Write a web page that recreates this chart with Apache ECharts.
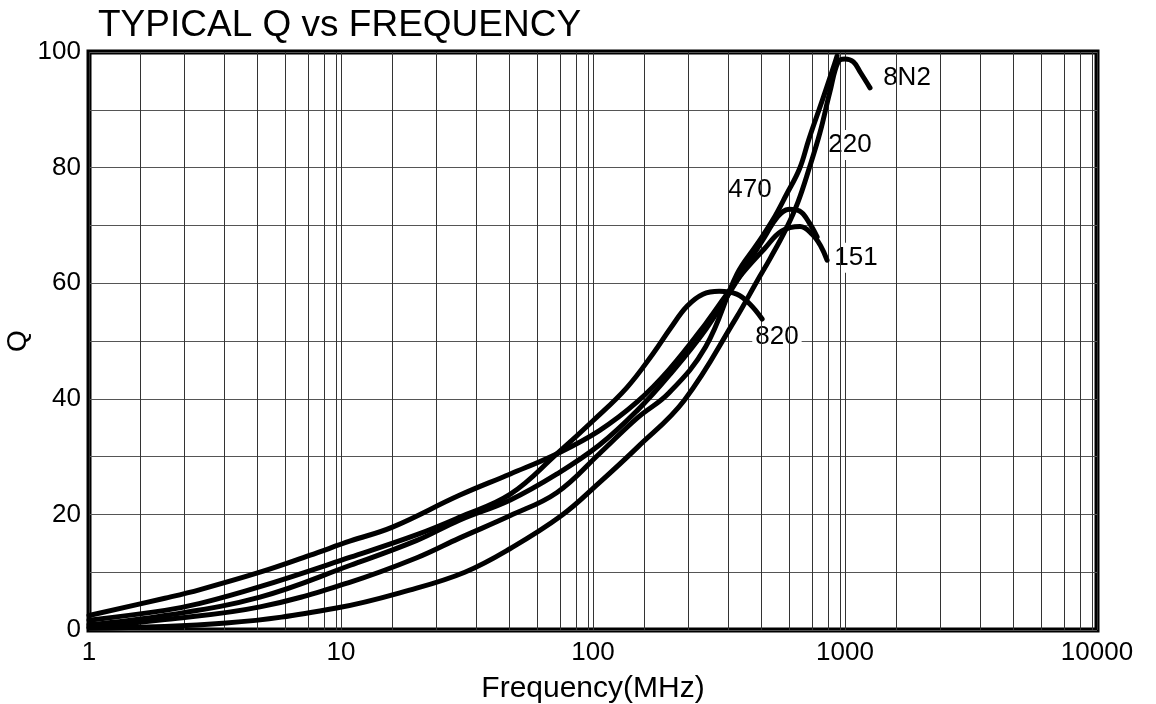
<!DOCTYPE html>
<html>
<head>
<meta charset="utf-8">
<script src="https://cdn.jsdelivr.net/npm/echarts@6/dist/echarts.min.js"></script>
<style>
html,body{margin:0;padding:0;background:#fff;}
#chart{width:1156px;height:704px;}
</style>
</head>
<body>
<div id="chart"></div>
<script>
// ---- data ----
const xTickLabels = [1, 10, 100, 1000, 10000];
const yTickLabels = [0, 20, 40, 60, 80, 100];
// minor vertical grid positions inside each decade (fraction of decade, as printed)
const minorFractions = [0.202, 0.377, 0.536, 0.667, 0.778, 0.869, 0.933, 0.98];

const seriesNames = ['151', '820', '470', '220', '8N2'];

const freq151 = [1, 2, 2.76, 4.77, 7.5, 10.9, 16, 29.5, 47, 72, 106, 150, 200, 280, 380, 480, 560, 663, 740, 800, 849];
const q151    = [2.5, 5.5, 7, 10, 12.9, 15.4, 17.8, 23.3, 27, 30.5, 34.5, 39.5, 45, 53, 61, 66, 69, 69.8, 68.5, 66.5, 64];

const freq820 = [1, 2, 2.76, 4.77, 10.9, 20, 29.5, 47, 72, 100, 136, 173, 203, 236, 273, 317, 372, 419, 469];
const q820    = [1.7, 3.4, 4.6, 7.5, 12.6, 16.5, 19.5, 23.5, 30.5, 36.2, 41.9, 47.8, 52.2, 56, 58.1, 58.6, 58.1, 56.4, 53.8];

const freq470 = [1, 2, 4.77, 10.9, 20, 29.5, 47, 72, 106, 150, 200, 280, 380, 480, 540, 600, 660, 720, 775];
const q470    = [0.9, 2.5, 5.7, 11.2, 15.5, 19, 22.5, 27, 32, 38, 44, 52, 61, 68, 71.5, 72.8, 72.5, 70.5, 68];

const freq220 = [1, 2, 4.77, 10.9, 20, 29.5, 47, 72, 106, 150, 200, 280, 373, 447, 518, 585, 660, 720, 818, 910, 930];
const q220    = [0.5, 1.8, 4, 8.3, 12.5, 15.9, 19.8, 23.8, 30.5, 36.7, 41, 49, 61.6, 66.7, 71, 75.3, 79.8, 85, 92, 98, 99.3];

const freq8N2 = [1, 3.5, 9.6, 18.7, 31, 47, 75, 106, 150, 230, 370, 447, 505, 585, 650, 720, 795, 870, 940, 1000, 1080, 1150, 1257];
const q8N2    = [0.3, 1.2, 3.8, 6.9, 10, 14.1, 19.8, 25.5, 31.6, 39.7, 54, 60.3, 64.3, 69.5, 74, 79.8, 86, 93, 98.3, 98.8, 98.3, 96.5, 93.8];

// curve label anchors (frequency, Q)
const labelFreq = [1106, 537, 420, 1047, 1762];
const labelQ    = [64.4, 50.7, 76.1, 83.9, 95.5];

// ---- build ----
const curves = [
  [freq151, q151], [freq820, q820], [freq470, q470], [freq220, q220], [freq8N2, q8N2]
];
const FONT = '"Liberation Sans", Arial, sans-serif';

const minorLines = [];
for (let d = 0; d < 4; d++) {
  minorFractions.forEach(fr => minorLines.push({ xAxis: Math.pow(10, d + fr) }));
}

const series = curves.map((c, i) => ({
  name: seriesNames[i],
  type: 'line',
  data: c[0].map((f, j) => [f, c[1][j]]),
  symbol: 'none',
  smooth: 0.4,
  lineStyle: { color: '#000', width: 5, cap: 'round', join: 'round' },
  z: 5,
  silent: true
}));

series.push({
  type: 'line',
  data: [],
  silent: true,
  z: 1,
  markLine: {
    silent: true,
    symbol: 'none',
    label: { show: false },
    lineStyle: { color: '#333', width: 1, type: 'solid' },
    data: minorLines,
    animation: false
  }
});

series.push({
  type: 'scatter',
  symbolSize: 0,
  z: 3,
  itemStyle: { opacity: 1 },
  data: labelFreq.map((f, i) => ({ value: [f, labelQ[i]], name: seriesNames[i] })),
  label: {
    show: true,
    position: 'inside',
    formatter: p => p.name,
    color: '#000',
    opacity: 1,
    fontFamily: FONT,
    fontSize: 26,
    backgroundColor: '#fff',
    padding: [2, 3]
  },
  silent: true
});

const chart = echarts.init(document.getElementById('chart'), null, { renderer: 'canvas' });
chart.setOption({
  animation: false,
  backgroundColor: '#fff',
  title: {
    text: 'TYPICAL Q vs FREQUENCY',
    left: 93,
    top: 2,
    textStyle: { fontFamily: FONT, fontSize: 37, fontWeight: 'normal', color: '#000' }
  },
  grid: {
    left: 89, right: 59, top: 52, bottom: 74,
    containLabel: false,
    outerBoundsMode: 'none',
    show: true, borderColor: '#000', borderWidth: 5, backgroundColor: 'transparent'
  },
  xAxis: {
    type: 'log',
    logBase: 10,
    min: xTickLabels[0],
    max: xTickLabels[xTickLabels.length - 1],
    name: 'Frequency(MHz)',
    nameLocation: 'middle',
    nameGap: 44,
    nameMoveOverlap: false,
    nameTextStyle: { fontFamily: FONT, fontSize: 30, color: '#000' },
    axisLine: { show: false },
    axisTick: { show: false },
    axisLabel: {
      fontFamily: FONT, fontSize: 26, color: '#000', margin: 10,
      formatter: v => String(Math.round(v))
    },
    splitLine: { show: true, lineStyle: { color: '#333', width: 1 } }
  },
  yAxis: {
    type: 'value',
    min: 0, max: 100, interval: 10,
    name: 'Q',
    nameLocation: 'middle',
    nameGap: 57,
    nameMoveOverlap: false,
    nameTextStyle: { fontFamily: FONT, fontSize: 28, color: '#000' },
    axisLine: { show: false },
    axisTick: { show: false },
    axisLabel: {
      fontFamily: FONT, fontSize: 26, color: '#000', margin: 8,
      formatter: v => (yTickLabels.indexOf(v) >= 0 ? String(v) : '')
    },
    splitLine: { show: true, lineStyle: { color: '#555', width: 1 } }
  },
  series: series
});
</script>
</body>
</html>
